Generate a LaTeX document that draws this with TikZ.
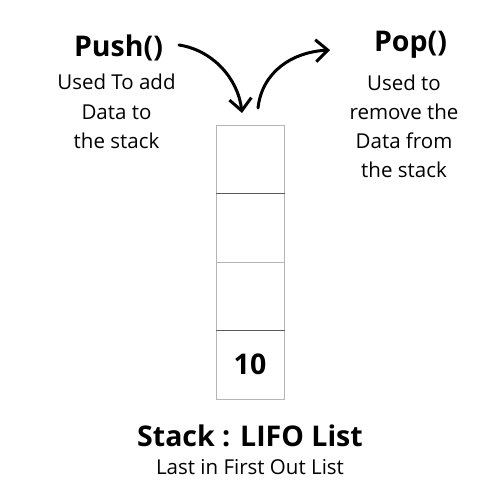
\documentclass[tikz,border=0pt]{standalone}
\usepackage{fontspec}
\setmainfont{Open Sans}
\usetikzlibrary{arrows.meta}
\definecolor{boxgray}{HTML}{B5B5B5}
\definecolor{divdark}{HTML}{5A5A5A}
\tikzset{
  title/.style={font=\fontsize{28.5}{32}\selectfont\bfseries, anchor=base, inner sep=0pt},
  body/.style={font=\fontsize{20.5}{29}\selectfont, anchor=base, inner sep=0pt},
  cell/.style={minimum width=68pt, minimum height=68.5pt, inner sep=0pt, anchor=north west, draw=boxgray, line width=0.9pt},
  bigarrow/.style={line width=3pt, line cap=round, -{Straight Barb[length=12pt,width=22pt,line width=3pt]}},
}
\begin{document}
\begin{tikzpicture}[x=1pt,y=-1pt]
\useasboundingbox (0,0) rectangle (500,500);
\fill[white] (0,0) rectangle (500,500);
% stack cells
\node[cell] (c1) at (216,124.5) {};
\node[cell] (c2) at (216,193) {};
\node[cell] (c3) at (216,261.5) {};
\node[cell] (c4) at (216,330) {};
\draw[divdark, line width=0.9pt] (c1.south west) -- (c1.south east);
\draw[divdark, line width=0.9pt] (c3.south west) -- (c3.south east);
\node[title] (ten) at (250,374.5) {10};
% push
\node[title] (push) at (118.5,56.5) {Push()};
\node[body] (pl1) at (116.5,90) {Used To add};
\node[body] (pl2) at (116.5,119) {Data to};
\node[body] (pl3) at (116.5,148) {the stack};
% pop
\node[title] (pop) at (410.5,51.5) {Pop()};
\node[body] (ql1) at (404,90.5) {Used to};
\node[body] (ql2) at (404,119.5) {remove the};
\node[body] (ql3) at (404,148.5) {Data from};
\node[body] (ql4) at (404,177) {the stack};
% arrows
\coordinate (pushs) at (179,45);
\coordinate (pushe) at (242,113);
\coordinate (pops) at (258,108);
\coordinate (pope) at (330,50);
\draw[bigarrow] (pushs) .. controls (212,50) and (238,78) .. (pushe);
\draw[bigarrow] (pops) .. controls (262,72) and (292,52) .. (pope);
% caption
\node[title] (cap) at (250,446.5) {Stack : LIFO List};
\node[body] (sub) at (250,474) {Last in First Out List};
\end{tikzpicture}
\end{document}
